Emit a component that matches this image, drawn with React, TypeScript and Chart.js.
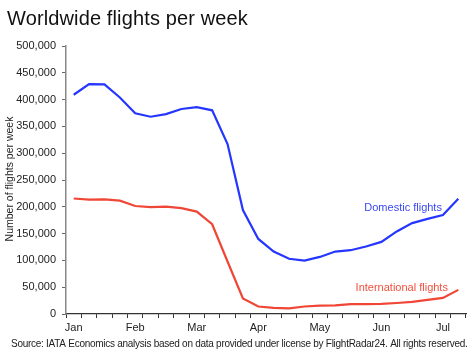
import React, { useEffect, useRef } from "react";
import { Chart, registerables } from "chart.js";

Chart.register(...registerables);

const weekLabels = [
  "Jan", "", "", "", "Feb", "", "", "", "Mar", "", "", "", "Apr",
  "", "", "", "May", "", "", "", "Jun", "", "", "", "Jul", "",
];

const domestic = [
  409000, 429000, 428500, 404000, 374500, 368000, 373000, 382500, 386000,
  380000, 317000, 194000, 140000, 116500, 103000, 99500, 106500, 116500,
  119000, 126000, 134500, 154000, 169500, 177500, 184500, 215000,
];

const international = [
  215500, 213500, 214000, 211500, 201500, 199500, 200500, 197500, 191000,
  167500, 98000, 29000, 14000, 11500, 10500, 14000, 15500, 16000, 18500,
  18500, 19000, 20500, 22500, 26500, 30000, 45000,
];

const yTicks = [0, 50000, 100000, 150000, 200000, 250000, 300000, 350000, 400000, 450000, 500000];

const titleText = "Worldwide flights per week";
const yTitleText = "Number of flights per week";
const sourceText =
  "Source: IATA Economics analysis based on data provided under license by FlightRadar24. All rights reserved.";
const domesticLabel = "Domestic flights";
const internationalLabel = "International flights";

const BLUE = "#2536ff";
const RED = "#ef4636";
const FONT = "'Liberation Sans', Arial, sans-serif";

function fitText(ctx: CanvasRenderingContext2D, text: string, x: number, y: number, target: number) {
  const w = ctx.measureText(text).width;
  (ctx as any).letterSpacing = `${((target - w) / text.length).toFixed(2)}px`;
  ctx.fillText(text, x, y);
  (ctx as any).letterSpacing = "0px";
}

const textPlugin = {
  id: "customText",
  afterDraw(chart: any) {
    const ctx = chart.ctx as CanvasRenderingContext2D;
    const xs = chart.scales.x;
    const ys = chart.scales.y;
    ctx.save();
    // Title
    ctx.fillStyle = "#111";
    ctx.font = `20px ${FONT}`;
    ctx.textAlign = "left";
    ctx.textBaseline = "alphabetic";
    fitText(ctx, titleText, 7, 25, 241);

    // Y axis title
    ctx.save();
    ctx.translate(13, (chart.chartArea.top + chart.chartArea.bottom) / 2 - 1);
    ctx.rotate(-Math.PI / 2);
    ctx.font = `10.5px ${FONT}`;
    ctx.fillStyle = "#222";
    ctx.textAlign = "center";
    ctx.textBaseline = "alphabetic";
    ctx.fillText(yTitleText, 0, 0);
    ctx.restore();

    // Source
    ctx.font = `10px ${FONT}`;
    ctx.fillStyle = "#222";
    ctx.textAlign = "left";
    fitText(ctx, sourceText, 11, 347, 457);

    // Series labels
    ctx.font = `11px ${FONT}`;
    ctx.textAlign = "right";
    ctx.textBaseline = "middle";
    ctx.fillStyle = "#3a48f5";
    ctx.fillText(domesticLabel, xs.getPixelForValue(24) - 1, ys.getPixelForValue(197500));
    ctx.fillStyle = "#f2503e";
    ctx.fillText(internationalLabel, xs.getPixelForValue(24) + 5, ys.getPixelForValue(48500));
    ctx.restore();
  },
};

export default function App() {
  const ref = useRef<HTMLCanvasElement>(null);
  useEffect(() => {
    if (!ref.current) return;
    const chart = new Chart(ref.current, {
      type: "line",
      data: {
        labels: weekLabels,
        datasets: [
          {
            label: domesticLabel,
            data: domestic,
            borderColor: BLUE,
            borderWidth: 2.2,
            pointRadius: 0,
            tension: 0,
            fill: false,
          },
          {
            label: internationalLabel,
            data: international,
            borderColor: RED,
            borderWidth: 2.2,
            pointRadius: 0,
            tension: 0,
            fill: false,
          },
        ],
      },
      options: {
        responsive: false,
        animation: false,
        devicePixelRatio: 1,
        layout: { padding: { left: 0, right: 7, top: 46, bottom: 0 } },
        plugins: {
          legend: { display: false },
          title: { display: false },
          tooltip: { enabled: false },
        },
        scales: {
          x: {
            type: "category",
            offset: true,
            grid: {
              offset: true,
              drawOnChartArea: false,
              drawTicks: true,
              tickLength: 4,
              color: "#333",
              lineWidth: 1,
            },
            border: { display: true, color: "#333", width: 1.2 },
            ticks: {
              autoSkip: false,
              maxRotation: 0,
              padding: 3,
              color: "#222",
              font: { family: FONT, size: 11 },
            },
            afterFit: (scale: any) => {
              scale.height = 48;
            },
          },
          y: {
            min: 0,
            max: 500000,
            afterBuildTicks: (scale: any) => {
              scale.ticks = yTicks.map((v) => ({ value: v }));
            },
            grid: {
              drawOnChartArea: false,
              drawTicks: true,
              tickLength: 4,
              color: "#666",
              lineWidth: 1,
            },
            border: { display: true, color: "#888", width: 1.5 },
            ticks: {
              padding: 6,
              color: "#222",
              font: { family: FONT, size: 11 },
              callback: (v: any) => Number(v).toLocaleString("en-US"),
            },
            afterFit: (scale: any) => {
              scale.width = 66;
            },
          },
        },
      },
      plugins: [textPlugin],
    });
    return () => chart.destroy();
  }, []);
  return (
    <div style={{ position: "absolute", left: 0, top: 0, width: 473, height: 362, background: "#fff" }}>
      <canvas ref={ref} width={473} height={362} style={{ display: "block" }} />
    </div>
  );
}
